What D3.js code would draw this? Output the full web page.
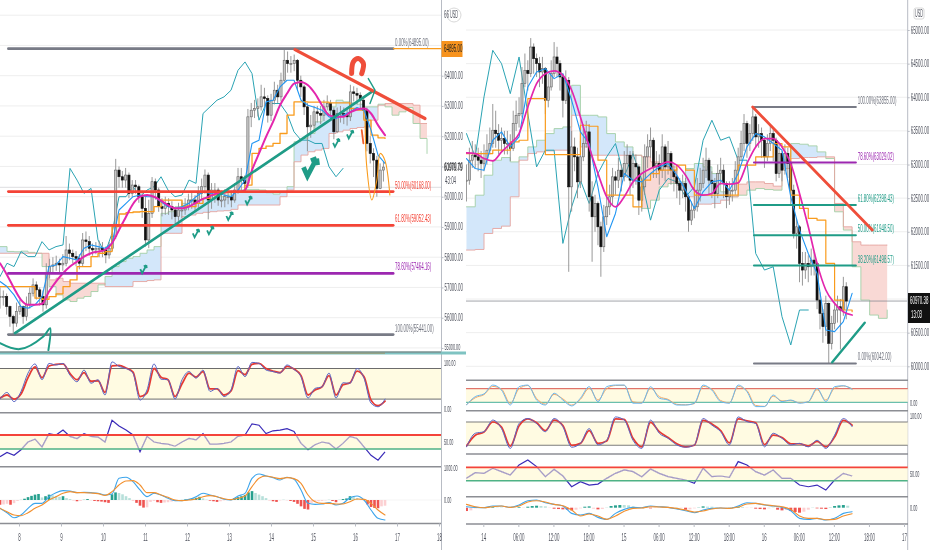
<!DOCTYPE html>
<html><head><meta charset="utf-8">
<script src="https://cdn.jsdelivr.net/npm/d3@7"></script>
<style>
html,body{margin:0;padding:0;background:#fff;overflow:hidden}
svg{display:block;filter:blur(0.55px)}
text{font-family:"Liberation Sans",sans-serif}
</style></head><body><svg id="c" width="932" height="550"></svg>
<script>
// ---------- left chart data (prices in USD) ----------
const leftCandleStart=7.548, leftCandleStep=0.0787, leftLineStep=1/6;
const leftClose=[56700,56700,56370,56040,55820,56205,56370,56040,56425,56810,
57085,56920,56700,56425,57470,57690,57745,57800,57745,57800,
58240,58130,58020,57965,57800,58570,58515,58295,58240,58295,
58295,58240,58075,58295,58680,60880,60660,60550,60715,60110,
60385,60330,60000,59615,58570,59450,60495,60220,59670,59615,
59780,59670,59560,59340,59560,59560,59670,59890,59890,59780,
60110,60330,60715,59890,60220,60220,59890,59890,60000,60000,
59890,60220,60660,60550,60440,62640,62860,62915,62970,63300,
63245,62695,63190,63520,63300,63850,64510,64400,64400,64510,
63850,63630,62970,62310,62365,62805,62750,62695,62970,63080,
62860,62145,62750,62750,62695,62640,63465,63410,63355,63190,
62860,61760,61430,61210,60275,60880,60979];
const leftHigh=[57000,56900,56800,56400,56100,56500,56600,56400,56700,57000,
57300,57200,57000,56900,57800,57950,58000,58050,57950,58100,
58700,58450,58250,58200,58100,58800,58850,58700,58450,58500,
58550,58500,58350,58500,59000,61250,61000,60850,60950,60800,
60550,60550,60400,60200,60000,59900,60650,60600,60300,59950,
60000,59950,59850,59650,59800,59850,59950,60100,60150,60050,
60350,60600,60900,60800,60450,60450,60300,60200,60250,60250,
60200,60450,60950,60950,60700,62900,63100,63200,63250,63700,
63600,63350,63400,63800,63700,64100,64850,64800,64650,64700,
64550,64000,63700,63100,62700,63000,63000,63000,63200,63350,
63200,62950,62950,63000,62950,62900,63700,63650,63600,63450,
63300,62950,62000,61600,61350,61100,61150];
const leftLow=[56300,56400,56100,55700,55450,55700,56100,55800,55900,56300,
56700,56600,56400,56200,56300,57300,57500,57550,57500,57550,
57700,57900,57800,57700,57600,57700,58200,58050,58050,58100,
58000,58000,57800,57950,58200,58600,60300,60300,60300,59950,
60000,60100,59800,59300,58350,58300,59300,59900,59500,59350,
59400,59400,59250,59100,59200,59300,59400,59550,59600,59500,
59600,59900,60100,59250,59600,59800,59700,59650,59650,59750,
59650,59800,60100,60200,60200,60300,62300,62600,62650,62850,
63000,62450,62500,63050,63100,63150,63750,64100,64100,64150,
63500,63300,62700,61500,61950,62200,62450,62400,62500,62850,
62500,61900,62100,62450,62400,62350,62500,63150,63050,62900,
62550,61500,61100,60650,60000,60250,60500];
const leftMagenta=[57800,57415,56975,56590,56425,56425,56460,56865,57195,57470,57690,57855,58020,58130,58185,58240,58460,58900,59340,59760,60000,60055,60000,59870,59725,59615,59615,59670,59800,59925,60020,60110,60140,60165,60165,60220,60880,61430,61980,62475,63025,63410,63740,63795,63685,63410,63025,62695,62640,62640,62785,62880,62915,62750,62365,62035];
const leftBlue=[57195,57030,56755,56370,56315,56425,56700,57690,57745,58020,57965,57910,58295,58405,58350,58295,58460,59560,59780,60000,60055,60000,60000,59835,59670,59615,59670,59780,60000,60165,60110,60130,60055,60000,60220,60550,61760,61870,63135,63190,63630,63850,63850,63190,63025,62950,62860,62640,62585,62695,62805,62950,62860,62200,61375,61100];
const leftOrange=[57030,57030,57030,57030,57030,56645,56610,56700,56790,57030,57250,57690,57690,58020,58130,58185,59010,59428,59472,59494,59505,59505,59670,59890,59890,59890,59692,59670,59780,59945,60055,60110,60132,60154,60165,60385,61430,61595,61672,61760,62090,62695,63135,63135,63124,63124,63124,63102,63102,63102,62915,62860,62530,62035,61947,61925];
const leftLagging=[57360,57800,57690,58185,58020,58020,58515,58240,58350,58405,60935,60550,60110,60275,58570,58130,58790,60000,60000,60330,60000,60220,60330,60660,60220,60000,60055,60550,60440,62750,62970,63190,63300,63520,64180,64455,64070,62530,63080,63080,63080,62750,62145,61870,61870,61760,61760,60990,60660,60935];
const leftSpanA=[58350,58190,58180,58200,58160,58130,57690,57030,56755,56590,56535,56645,56700,56865,57085,57360,57690,57855,57965,58020,58130,58240,58350,59450,59505,59670,59780,59890,59890,59945,59978,60000,60055,60165,60220,60242,60242,60220,60132,60088,60165,60330,61815,61925,62090,62475,62750,62970,63190,63135,63102,63058,62970,62970,63058,62970,62695,62805,62948,62420,61925,61430];
const leftSpanB=[58130,58130,58130,58130,58130,58130,58130,57250,57305,57195,57140,57140,57140,57140,57140,57030,57030,57030,57030,57195,57195,57228,57250,58790,58790,58790,59340,59395,59450,59483,59505,59527,59538,59582,59725,59725,59725,59725,59725,59725,60000,60220,61155,61375,61485,61540,61595,62090,62145,62200,62255,62288,62310,62530,63025,63080,63080,63080,63080,63025,62420,62420];
const leftFibLevels=[0,50,61.8,78.6,100];
const leftFibPrices=[64895,60168,59052.43,57464.16,55441];
const leftFibDays=[7.746,16.91];
const leftRedTrend=[[14.571,64862],[17.667,62585]];
const leftTealTrend=[[7.905,55490],[16.397,63465]];
const leftOrangeForecast=[[16.24,62530],[16.28,60990],[16.40,59890],[16.52,60550],[16.6,61430],[16.71,61210],[16.83,60055]];
const leftTealArc=[[7.548,55160],[8.02,54962],[8.58,55380],[8.74,55655],[8.70,54930]];
const leftTealHook=[[16.317,63905],[16.476,63520],[16.357,63080]];
const leftRedHook=[[15.92,64070],[15.96,64455],[16.08,64565],[16.2,64400],[16.16,64070]];
const leftRedArrow=[[16.16,62200],[16.2,61760]];
const checkDays=[10.96,12.21,12.55,13.01,13.46,15.55,15.88];
const checkPrices=[57635,58823,58922,59395,59912,61815,62090];
const bigCheck=[14.93,61045];
const leftPriceTicks=[55000,56000,57000,58000,59000,60000,61000,62000,63000,64000];
const leftHiddenGrid=[65000,66000];
const leftDayTicks=[8,9,10,11,12,13,14,15,16,17,18];
// left oscillators
const leftStochK=[20,33,15,35,71,89,58,90,87,90,67,54,77,51,58,28,93,84,80,71,18,38,89,59,58,20,58,74,61,77,35,41,25,38,84,64,92,90,77,74,71,87,78,64,22,41,44,71,22,52,51,80,61,12,5,20];
const leftStochD=[22,28,20,30,62,83,62,85,88,89,70,58,72,55,56,33,85,86,81,73,25,32,80,63,58,25,50,71,63,74,40,40,28,36,76,68,88,90,80,75,72,84,79,66,28,38,44,66,28,48,52,75,64,18,7,16];
const leftRsi=[29,35,31,39,50,54,43,62,60,67,58,55,62,58,57,50,81,73,67,60,36,58,50,48,47,44,50,55,53,62,47,47,48,50,58,60,76,74,62,66,67,69,65,48,39,46,50,48,40,48,58,55,43,31,24,36];
const leftMacd=[-263,-400,-558,-474,-263,-105,-105,105,232,295,284,232,242,232,211,158,190,684,716,579,316,105,211,158,53,-21,-21,21,105,211,158,105,21,0,126,211,684,821,758,705,632,716,653,316,-105,-137,-126,-84,-158,-105,74,126,0,-316,-579,-632];
const leftSignal=[-263,-369,-474,-495,-400,-263,-158,0,105,211,263,232,232,221,200,147,263,474,600,611,474,232,232,158,84,0,-21,0,32,105,137,105,42,11,53,126,421,684,758,716,674,705,674,526,158,-53,-105,-105,-126,-126,-53,32,21,-105,-316,-474];
const leftHistStep=1/12;
const leftHist=[-150,-140,-120,-150,-100,-30,10,40,90,130,170,190,80,120,170,150,130,100,120,60,30,-20,-40,-30,20,30,-10,-30,-40,-50,-70,-90,180,240,220,180,120,60,-30,-90,-180,-240,-230,-60,-30,-70,-90,-80,-70,-50,-20,-10,10,20,30,50,70,100,50,10,-20,-40,-60,-40,-10,10,20,60,90,120,160,240,280,220,170,120,60,-20,-40,-60,-10,10,-10,-30,-60,-120,-200,-280,-300,-100,-60,-40,-30,-10,10,-30,-70,10,30,50,120,110,60,20,-20,-140,-220,-250,-260,-200,-180];

// ---------- right chart data ----------
const rightCandleStart=13.88, rightCandleStep=1/48, rightLineStep=1/16;
const rightClose=[62767,63064,63138,63114,63064,63015,63089,63213,63312,63510,
63460,63361,63386,63312,63312,63237,63609,63732,63757,64203,
64401,64351,64747,64574,64500,64376,64425,63955,64153,64351,
64599,64500,64302,63955,64252,62668,63262,63114,62742,63114,
63312,63485,62520,62223,62421,62074,61777,62223,62371,62520,
62817,62767,62916,62817,63015,63138,62767,63015,62965,62470,
62668,63114,63262,63361,62965,63015,62916,63262,62965,63163,
62916,62817,62718,62619,62718,62520,62173,62322,62371,62619,
62718,62916,63064,62767,62718,62569,62866,62916,62718,62520,
62619,62619,62916,63114,63312,63609,63312,63460,63708,63411,
63460,63361,63114,63312,63460,63361,62866,63163,62916,63163,
63015,62619,61975,62074,61530,61431,61530,61480,61579,61530,
60985,60787,60589,60936,60342,60639,60837,60886,60837,61183,
60970];
const rightHigh=[63000,63250,63350,63300,63250,63200,63300,63450,63550,63900,
63800,63600,63550,63500,63500,63450,63800,63950,64000,64450,
64650,64550,64880,64800,64650,64600,64600,64450,64350,64550,
64820,64750,64550,64350,64400,64300,63500,63400,63250,63350,
63600,63650,63600,62750,62550,62450,62150,62400,62550,62700,
62950,62900,63100,63000,63200,63300,63200,63200,63150,63000,
62800,63300,63450,63550,63400,63200,63150,63450,63300,63350,
63200,63000,62950,62800,62850,62800,62550,62450,62550,62800,
62950,63100,63250,63100,62900,62800,63000,63100,63000,62750,
62750,62800,63050,63250,63500,63750,63650,63600,63850,63750,
63600,63550,63400,63450,63600,63550,63400,63300,63200,63300,
63250,63050,62700,62200,62100,61700,61700,61650,61750,61700,
61550,61100,60850,61050,60950,60750,60950,61050,61000,61330,
61250];
const rightLow=[62450,62700,62950,62950,62900,62800,62900,63000,63150,63250,
63250,63150,63200,63150,63150,63050,63200,63500,63550,63700,
64150,64100,64300,64350,64300,64150,64200,63750,63850,64100,
64300,64300,64100,63700,63900,61405,62300,62900,62500,62650,
63050,63250,62300,61554,62000,61800,61331,61700,62100,62250,
62400,62550,62650,62600,62750,62800,62550,62650,62700,62250,
62300,62550,62950,63100,62800,62800,62700,62800,62750,62850,
62700,62600,62500,62400,62500,62300,62000,62100,62200,62300,
62450,62650,62800,62550,62500,62350,62500,62700,62500,62350,
62400,62450,62550,62850,63050,63200,63100,63200,63350,63250,
63250,63100,62950,63050,63200,63050,62750,62800,62750,62850,
62800,62400,61900,61750,61250,61200,61300,61250,61350,61350,
60850,60550,60350,60450,60042,60250,60550,60650,60250,60750,
60700];
const rightMagenta=[63173,63163,63089,63054,63188,63312,63460,63856,64203,64351,64391,64326,64104,63708,63262,62866,62520,62371,62520,62742,62866,62940,62990,63039,62990,62841,62619,62544,62569,62718,62708,62727,63015,63262,63386,63386,63262,63015,62569,62074,61530,61134,60936,60812,60762];
const rightBlue=[63089,62940,62916,63361,63485,63262,63411,64153,64376,64425,64277,64351,63955,63485,63312,62668,61926,62272,62866,62767,62742,62866,62965,63015,62841,62619,62347,62594,62742,62767,62619,62866,63262,63460,63411,63312,63213,62520,62025,61678,61381,60540,60515,60663,61084];
const rightOrange=[63163,63163,63163,63213,63213,63336,63361,63980,63980,63148,63148,63148,63148,63584,63569,63064,62544,62544,62544,62371,62767,62866,62916,62916,62990,62916,62544,62544,62544,62544,62544,62990,62990,63114,63114,63312,63262,62544,62347,62198,62173,61530,60985,60837,60812];
const rightLagging=[63460,63114,64005,64698,64500,64054,64599,63757,62965,63213,63213,61827,62371,62767,62421,62866,63114,63312,62817,63163,62767,62173,62619,62792,62742,62520,62668,63361,63658,63361,63411,63064,63064,61678,61431,61480,60738,60317,60837,60837];
const rightSpanA=[62371,62544,62841,63064,63104,63039,63114,63262,63361,63460,63534,63559,64178,63732,63732,63708,63460,63336,63262,63138,62347,62470,62668,62718,62742,62940,63015,62965,62866,62594,62520,62544,62619,62643,62628,62619,63114,63312,63302,63277,63188,63089,62297,62025,61480,60985,60762,60713,60837];
const rightSpanB=[61728,61737,61975,62049,62084,62520,63064,63163,63188,63203,63213,63213,63732,63262,63138,63138,63138,63138,63138,63138,63114,63039,62990,62965,62693,62520,62411,62411,62421,62470,62520,62708,62742,62742,62718,62678,62940,63089,63104,63104,63114,63114,62421,62074,61851,61802,61802,61802,61802];
const rightFibLevels=[100,78.6,61.8,50,38.2,0];
const rightFibPrices=[63855,63029.02,62398.43,61948.5,61498.57,60042];
const rightFibDays=[15.93,16.657];
const rightRedTrend=[[15.921,63856],[16.774,62025]];
const rightTealTrend=[[16.488,60059],[16.72,60648]];
const rightPriceTicks=[60000,60500,61000,61500,62000,62500,63000,63500,64000,64500,65000];
const rightDayTicks=[14,14.25,14.5,14.75,15,15.25,15.5,15.75,16,16.25,16.5,16.75,17];
const rightDayLabels=["14","06:00","12:00","18:00","15","06:00","12:00","18:00","16","06:00","12:00","18:00","17"];
const rightStoch1K=[8,45,57,96,74,8,89,96,30,8,60,30,4,38,89,23,89,96,96,16,16,89,38,30,8,8,16,96,74,23,16,96,67,1,1,52,23,30,16,23,82,23,89,93,77];
const rightStoch1D=[10,40,54,90,78,15,80,94,37,12,55,35,8,33,82,30,80,94,95,22,18,82,45,33,11,9,14,90,78,28,18,90,72,6,2,47,26,28,18,22,76,30,82,92,80];
const rightStoch2K=[16,51,55,85,63,12,76,89,76,55,89,68,15,25,63,21,33,93,85,33,12,85,51,38,21,15,21,89,72,55,21,93,81,76,16,51,38,21,25,16,33,12,46,89,68];
const rightStoch2D=[18,46,54,80,67,18,70,88,78,58,85,71,20,25,58,25,31,88,87,38,16,79,55,40,24,16,20,84,75,58,26,88,83,78,22,46,40,24,24,18,30,16,41,84,72];
const rightRsi=[43.5,52,51,58.5,53.5,48.5,63.5,71,61,46,57,47,31,38.5,33.5,35,43.5,51,56,53.5,46,57.5,51,46,43.5,41,36,58.5,46,47,45,68.5,63.5,53.5,48.5,56,43.5,43.5,33.5,31,33.5,26,41,51,47];
const rightMacd=[30,10,0,50,50,10,80,210,230,150,100,50,-170,-220,-170,-290,-350,-170,-50,10,0,50,30,10,-40,-90,-150,-70,-20,-10,-20,50,150,130,80,50,10,-90,-320,-350,-320,-370,-320,-170,-120];
const rightSignal=[100,30,0,30,50,10,50,170,210,170,100,60,-70,-250,-190,-250,-350,-250,-110,-20,-10,30,20,10,-20,-70,-130,-100,-40,-10,-20,20,110,130,90,60,30,-50,-250,-320,-320,-360,-350,-250,-180];
const rightHistStep=1/32;
const rightHist=[-100,-80,-20,10,10,10,20,10,10,-10,10,10,20,-10,30,50,60,50,40,-10,-30,-40,-50,-60,-80,-60,-20,30,40,-30,-50,-40,10,50,70,80,80,70,40,10,-10,-10,-20,-10,-10,10,-10,-10,10,-10,-60,-50,-20,20,40,30,30,10,-10,-10,10,20,30,20,-10,-10,-30,-40,-50,-20,10,-60,-80,-70,-100,-130,-150,-120,-60,10,-20,-30,-40,20,50,70,80,60];

// ---------- helpers ----------
const svg=d3.select("#c");
const GRID="#eeeeee",AXIS="#b8bcc4",LBL="#50535e",SEP="#8c8e94";
const TEAL="#1f9c87",RED="#ef4e3a",MAG="#e326ad",BLU="#2196f3",ORG="#f99b1c",LAG="#2aa3b3";
const pairs=(vals,start,step)=>vals.map((v,i)=>[start+i*step,v]);
const xL=d3.scaleLinear().domain([8,18]).range([19,439]);
const yL=d3.scaleLinear().domain([60000,64000]).range([196.7,75.7]);
const xR=d3.scaleLinear().domain([14,17]).range([483.3,904]);
const yR=d3.scaleLinear().domain([60000,65000]).range([366.3,30]);
function clip(id,x,y,w,h){svg.append("clipPath").attr("id",id).append("rect").attr("x",x).attr("y",y).attr("width",w).attr("height",h);}
clip("cl",0,0,441,351);clip("cr",466,0,441.7,378);
clip("pl",0,354,441,170);clip("pr",466,382,441.7,142);
function squeezed(g,x,y,s,opt={}){
  return g.append("text").attr("transform",`translate(${x},${y}) scale(${opt.sx||0.42},1)`)
   .attr("font-size",opt.size||10.5).attr("fill",opt.fill||LBL).attr("text-anchor",opt.anchor||"start").text(s);
}
function line(g,data,x,y,col,w,curve,dash){
  return g.append("path").datum(data).attr("fill","none").attr("stroke",col).attr("stroke-width",w)
   .attr("stroke-linejoin","round").attr("stroke-linecap","round").attr("stroke-dasharray",dash||null)
   .attr("d",d3.line().x(d=>x(d[0])).y(d=>y(d[1])).curve(curve||d3.curveLinear));
}
function candles(g,start,step,close,high,low,x,y,w){
  close.forEach((c,i)=>{
    const o=i?close[i-1]:c, px=x(start+i*step);
    g.append("line").attr("x1",px).attr("x2",px).attr("y1",y(high[i])).attr("y2",y(low[i])).attr("stroke","#8d8d8d").attr("stroke-width",0.9);
    const t=Math.min(y(o),y(c)),h=Math.max(1,Math.abs(y(o)-y(c))),down=c<o;
    g.append("rect").attr("x",px-w/2).attr("y",t).attr("width",w).attr("height",h)
      .attr("fill",down?"#111":"#c8c8c8").attr("stroke",down?"#111":"#666").attr("stroke-width",0.6);
  });
}
function cloud(g,A,B,start,step,x,y){
  const rows=A.map((a,i)=>({t:start+i*step,a,b:B[i]}));
  const ar=f=>d3.area().x(d=>x(d.t)).y0(d=>y(d.b)).y1(d=>y(f(d.a,d.b))).curve(d3.curveStepAfter);
  g.append("path").datum(rows).attr("d",ar(Math.max)).attr("fill","#d3e7fa");
  g.append("path").datum(rows).attr("d",ar(Math.min)).attr("fill","#f9d9d5");
  line(g,rows.map(d=>[d.t,d.a]),x,y,"#a3cfa6",0.9,d3.curveStepAfter);
  line(g,rows.map(d=>[d.t,d.b]),x,y,"#e5a5a0",0.9,d3.curveStepAfter);
}
function macdPanel(g,x,y,mac,sig,hist,start,step,hstep,bw){
  hist.forEach((v,i)=>{
    const rising=i&&Math.abs(v)>Math.abs(hist[i-1])||!i;
    const col=v>=0?(rising?"#26a08e":"#b7e0da"):(rising?"#ef5350":"#fcd0d2");
    g.append("rect").attr("x",x(start+i*hstep)-bw/2).attr("width",bw)
     .attr("y",Math.min(y(0),y(v))).attr("height",Math.abs(y(v)-y(0))).attr("fill",col);
  });
  line(g,pairs(mac,start,step),x,y,"#3da5ec",1.1,d3.curveMonotoneX);
  line(g,pairs(sig,start,step),x,y,"#f2902f",1.1,d3.curveMonotoneX);
}
function rsiPanel(g,x,y,vals,start,step,x0,x1,id){
  const top=y(60),bot=y(40);
  g.append("rect").attr("x",x0).attr("y",top).attr("width",x1-x0).attr("height",bot-top).attr("fill","#fffbe2");
  const d=d3.line().x(p=>x(p[0])).y(p=>y(p[1])).curve(d3.curveLinear);
  svg.append("clipPath").attr("id",id).append("rect").attr("x",x0).attr("y",top).attr("width",x1-x0).attr("height",bot-top);
  g.append("path").attr("d",d(pairs(vals,start,step))).attr("fill","none").attr("stroke","#3a2bb8").attr("stroke-width",1.2);
  g.append("path").attr("clip-path",`url(#${id})`).attr("d",d(pairs(vals,start,step))).attr("fill","none").attr("stroke","#fffbe2").attr("stroke-width",2);
  g.append("path").attr("clip-path",`url(#${id})`).attr("d",d(pairs(vals,start,step))).attr("fill","none").attr("stroke","#a49ac6").attr("stroke-width",1.2);
  g.append("line").attr("x1",x0).attr("x2",x1).attr("y1",top).attr("y2",top).attr("stroke","#f4433a").attr("stroke-width",1.8);
  g.append("line").attr("x1",x0).attr("x2",x1).attr("y1",bot).attr("y2",bot).attr("stroke","#4fb286").attr("stroke-width",1.6);
}
function stochPanel(g,x,y,K,D,start,step,x0,x1,colK,colD,wD,lineTop,lineBot,lw){
  g.append("rect").attr("x",x0).attr("y",y(80)).attr("width",x1-x0).attr("height",y(20)-y(80)).attr("fill","#fffbe2");
  g.append("line").attr("x1",x0).attr("x2",x1).attr("y1",y(80)).attr("y2",y(80)).attr("stroke",lineTop).attr("stroke-width",lw);
  g.append("line").attr("x1",x0).attr("x2",x1).attr("y1",y(20)).attr("y2",y(20)).attr("stroke",lineBot).attr("stroke-width",lw);
  line(g,pairs(D,start,step),x,y,colD,wD,d3.curveMonotoneX);
  line(g,pairs(K,start,step),x,y,colK,1,d3.curveMonotoneX);
}
function hline(x0,x1,y,col,w){svg.append("line").attr("x1",x0).attr("x2",x1).attr("y1",y).attr("y2",y).attr("stroke",col).attr("stroke-width",w);}
function fixAxis(g,fill,dx,dy){
  g.select(".domain").remove();
  g.selectAll(".tick line").attr("stroke",AXIS);
  g.selectAll("text").attr("x",0).attr("y",0).attr("dy",null).attr("fill",fill||LBL).attr("font-size",10.5)
    .attr("font-family","Liberation Sans").attr("transform",`translate(${dx},${dy}) scale(0.42,1)`);
}

// ---------- LEFT main ----------
const L=svg.append("g").attr("clip-path","url(#cl)");
leftPriceTicks.concat(leftHiddenGrid).forEach(p=>L.append("line").attr("x1",0).attr("x2",441).attr("y1",yL(p)).attr("y2",yL(p)).attr("stroke",GRID));
L.append("line").attr("x1",0).attr("x2",441).attr("y1",yL(60310)).attr("y2",yL(60310)).attr("stroke","#d5d5d8").attr("stroke-width",0.8);
cloud(L,leftSpanA,leftSpanB,leftCandleStart,leftLineStep,xL,yL);
line(L,pairs(leftLagging,leftCandleStart,leftLineStep),xL,yL,LAG,1);
candles(L,leftCandleStart,leftCandleStep,leftClose,leftHigh,leftLow,xL,yL,2.2);
line(L,pairs(leftOrange,leftCandleStart,leftLineStep),xL,yL,ORG,1.3,d3.curveStepAfter);
line(L,pairs(leftBlue,leftCandleStart,leftLineStep),xL,yL,BLU,1.1);
line(L,pairs(leftMagenta,leftCandleStart,leftLineStep),xL,yL,MAG,2,d3.curveMonotoneX);
const fibColL=["#787b86","#f44336","#f44336","#9c27b0","#787b86"];
leftFibPrices.forEach((p,i)=>{
  line(L,leftFibDays.map(d=>[d,p]),xL,yL,fibColL[i],2.6);
  const txt=leftFibLevels[i].toFixed(2)+"%("+p.toFixed(2)+")";
  squeezed(L,395,yL(p)-3,txt,{fill:fibColL[i]==="#787b86"?"#70737e":fibColL[i]});
});
line(L,leftTealTrend,xL,yL,TEAL,2.6);
line(L,leftRedTrend,xL,yL,RED,3.2);
line(L,leftOrangeForecast,xL,yL,ORG,1.1,d3.curveCatmullRom);
line(L,leftTealArc,xL,yL,TEAL,2,d3.curveCatmullRom);
line(L,leftTealHook,xL,yL,TEAL,1.4);
line(L,leftRedHook,xL,yL,RED,5,d3.curveCatmullRom);
line(L,leftRedArrow,xL,yL,"#f0602d",1.8);
const check="M-3,1 L-1.2,5 L3,-3 M3,-3 L0.4,-2 M3,-3 L3.4,0";
checkDays.forEach((d,i)=>L.append("path").attr("transform",`translate(${xL(d)},${yL(checkPrices[i])})`)
  .attr("d",check).attr("fill","none").attr("stroke",TEAL).attr("stroke-width",1.8));
L.append("path").attr("transform",`translate(${xL(bigCheck[0])},${yL(bigCheck[1])}) scale(2.2)`)
  .attr("d",check).attr("fill","none").attr("stroke",TEAL).attr("stroke-width",2.2);

// left axis
const axL=svg.append("g").attr("transform","translate(441.5,0)").call(d3.axisRight(yL).tickValues(leftPriceTicks).tickSize(2).tickFormat(d3.format(".2f")));
fixAxis(axL,LBL,3,3);
axL.selectAll("text").filter(d=>d===55000).attr("transform","translate(3,1.5) scale(0.42,1)").attr("font-size",9);
svg.append("line").attr("x1",441.5).attr("x2",441.5).attr("y1",0).attr("y2",550).attr("stroke",AXIS);
svg.append("line").attr("x1",393).attr("x2",441).attr("y1",yL(64895)).attr("y2",yL(64895)).attr("stroke",ORG).attr("stroke-width",1.2);
svg.append("rect").attr("x",441.5).attr("y",41).attr("width",21).attr("height",16).attr("fill","#f7931e");
squeezed(svg,444,52,"64895.00",{fill:"#222"});
squeezed(svg,444,171,"60979.79",{fill:"#222"});
squeezed(svg,445,184,"43:04");
svg.append("circle").attr("cx",454).attr("cy",15).attr("r",7).attr("fill","#fff").attr("stroke","#d8d8d8");
squeezed(svg,444,18,"66");
squeezed(svg,454,18,"USD",{anchor:"middle",sx:0.36});

// ---------- left panels ----------
const P=svg.append("g").attr("clip-path","url(#pl)");
const ySL=d3.scaleLinear().domain([0,100]).range([409.3,358.3]);
const yRL=d3.scaleLinear().domain([40,60]).range([449,435]);
const yML=d3.scaleLinear().domain([0,1000]).range([500,468.3]);
stochPanel(P,xL,ySL,leftStochK,leftStochD,leftCandleStart,leftLineStep,0,441,"#5b66c4","#e53a33",1.8,"#6c6c6c","#6c6c6c",1);
rsiPanel(P,xL,yRL,leftRsi,leftCandleStart,leftLineStep,0,441,"rsiL");
macdPanel(P,xL,yML,leftMacd,leftSignal,leftHist,leftCandleStart,leftLineStep,leftHistStep,2.6);
P.append("line").attr("x1",0).attr("x2",441).attr("y1",yML(0)).attr("y2",yML(0)).attr("stroke","#eee").attr("stroke-width",0.6).lower();
hline(0,466,353,"#7fc3c2",3);hline(0,441,352,"#777",1);hline(70,385,353.2,"#a58a55",0.8);
hline(0,441,412.8,SEP,1.4);hline(0,441,466.8,SEP,1.4);hline(0,441,523.5,SEP,1.4);
const axLb=svg.append("g").attr("transform","translate(0,523.5)").call(d3.axisBottom(xL).tickValues(leftDayTicks).tickSize(3).tickFormat(d3.format("d")));
fixAxis(axLb,LBL,0,17);axLb.selectAll("text").attr("text-anchor","middle");
[["100.00",ySL(100)+4.5],["0.00",ySL(0)],["50.00",yRL(50)],["1000.00",yML(1000)],["0.00",yML(0)]].forEach(t=>{
  squeezed(svg,444,t[1]+3,t[0],{size:9});
});

// ---------- RIGHT main ----------
const R=svg.append("g").attr("clip-path","url(#cr)");
rightPriceTicks.forEach(p=>R.append("line").attr("x1",466).attr("x2",908).attr("y1",yR(p)).attr("y2",yR(p)).attr("stroke",GRID));
cloud(R,rightSpanA,rightSpanB,rightCandleStart,rightLineStep,xR,yR);
line(R,pairs(rightLagging,rightCandleStart,rightLineStep),xR,yR,LAG,1);
R.append("line").attr("x1",466).attr("x2",908).attr("y1",yR(60970)).attr("y2",yR(60970)).attr("stroke","#8a8d94").attr("stroke-width",0.8);
candles(R,rightCandleStart,rightCandleStep,rightClose,rightHigh,rightLow,xR,yR,2.1);
line(R,pairs(rightOrange,rightCandleStart,rightLineStep),xR,yR,ORG,1.2,d3.curveStepAfter);
line(R,pairs(rightBlue,rightCandleStart,rightLineStep),xR,yR,BLU,1.1);
line(R,pairs(rightMagenta,rightCandleStart,rightLineStep),xR,yR,MAG,1.7,d3.curveMonotoneX);
const fibColR=["#787b86","#9c27b0","#1f9c87","#1f9c87","#1f9c87","#787b86"];
rightFibPrices.forEach((p,i)=>{
  line(R,rightFibDays.map(d=>[d,p]),xR,yR,fibColR[i],2);
  const txt=rightFibLevels[i].toFixed(2)+"%("+p.toFixed(2)+")";
  squeezed(R,857.7,yR(p)-3,txt,{fill:fibColR[i]==="#787b86"?"#70737e":fibColR[i]});
});
line(R,rightRedTrend,xR,yR,RED,2.8);
line(R,rightTealTrend,xR,yR,TEAL,2.4);
const axR=svg.append("g").attr("transform","translate(907.7,0)").call(d3.axisRight(yR).tickValues(rightPriceTicks).tickSize(2).tickFormat(d3.format(".2f")));
fixAxis(axR,LBL,3,3);
svg.append("line").attr("x1",907.7).attr("x2",907.7).attr("y1",0).attr("y2",550).attr("stroke",AXIS);
svg.append("rect").attr("x",908).attr("y",293).attr("width",22).attr("height",30).attr("fill","#111");
squeezed(svg,910,304,"60970.38",{fill:"#fff"});
squeezed(svg,911,318,"13:03",{fill:"#fff"});
svg.append("rect").attr("x",914).attr("y",8).attr("width",10).attr("height",11).attr("rx",2).attr("fill","#fff").attr("stroke","#d8d8d8");
squeezed(svg,919,17,"USD",{anchor:"middle",sx:0.36});

// ---------- right panels ----------
const Q=svg.append("g").attr("clip-path","url(#pr)");
const yS1=d3.scaleLinear().domain([20,80]).range([402.3,388.7]);
const yS2=d3.scaleLinear().domain([20,80]).range([445.3,422]);
const yRR=d3.scaleLinear().domain([40,60]).range([480.7,467.3]);
const yMR=d3.scaleLinear().domain([0,1000]).range([507.7,474.4]);
stochPanel(Q,xR,yS1,rightStoch1K,rightStoch1D,rightCandleStart,rightLineStep,466,908,"#69b7ef","#f0a867",1,"#d9544b","#45b09c",1);
stochPanel(Q,xR,yS2,rightStoch2K,rightStoch2D,rightCandleStart,rightLineStep,466,908,"#5b66c4","#e53a33",1.7,"#7c7c7c","#7c7c7c",1.1);
rsiPanel(Q,xR,yRR,rightRsi,rightCandleStart,rightLineStep,466,908,"rsiR");
macdPanel(Q,xR,yMR,rightMacd,rightSignal,rightHist,rightCandleStart,rightLineStep,rightHistStep,3);
hline(466,908,380.3,SEP,1.4);hline(466,908,410.7,SEP,1.4);hline(466,908,454,SEP,1.4);hline(466,908,496.7,SEP,1.4);hline(466,908,524,SEP,1.4);
const axRb=svg.append("g").attr("transform","translate(0,524)").call(d3.axisBottom(xR).tickValues(rightDayTicks).tickSize(3).tickFormat((d,i)=>rightDayLabels[i]));
fixAxis(axRb,LBL,0,17);axRb.selectAll("text").attr("text-anchor","middle");
[["0.00",402.5],["100.00",416],["50.00",yRR(50)],["0.00",yMR(0)]].forEach(t=>{
  squeezed(svg,910,t[1]+3,t[0],{size:9});
});
</script></body></html>
